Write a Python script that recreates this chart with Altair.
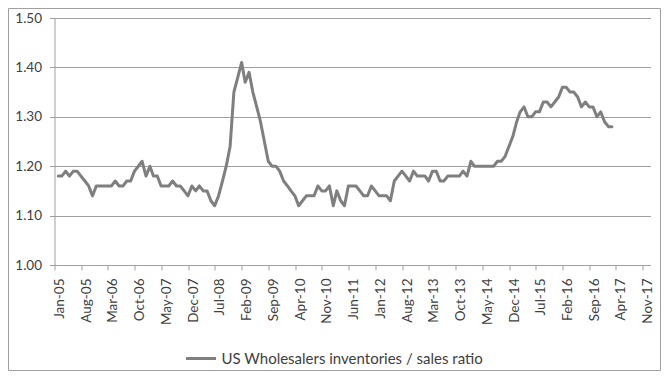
import altair as alt
import pandas as pd

series_name = "US Wholesalers inventories / sales ratio"

ratio = [
    1.18, 1.18, 1.19, 1.18, 1.19, 1.19, 1.18, 1.17, 1.16, 1.14, 1.16, 1.16,   # 2005
    1.16, 1.16, 1.16, 1.17, 1.16, 1.16, 1.17, 1.17, 1.19, 1.20, 1.21, 1.18,   # 2006
    1.20, 1.18, 1.18, 1.16, 1.16, 1.16, 1.17, 1.16, 1.16, 1.15, 1.14, 1.16,   # 2007
    1.15, 1.16, 1.15, 1.15, 1.13, 1.12, 1.14, 1.17, 1.20, 1.24, 1.35, 1.38,   # 2008
    1.41, 1.37, 1.39, 1.35, 1.32, 1.29, 1.25, 1.21, 1.20, 1.20, 1.19, 1.17,   # 2009
    1.16, 1.15, 1.14, 1.12, 1.13, 1.14, 1.14, 1.14, 1.16, 1.15, 1.15, 1.16,   # 2010
    1.12, 1.15, 1.13, 1.12, 1.16, 1.16, 1.16, 1.15, 1.14, 1.14, 1.16, 1.15,   # 2011
    1.14, 1.14, 1.14, 1.13, 1.17, 1.18, 1.19, 1.18, 1.17, 1.19, 1.18, 1.18,   # 2012
    1.18, 1.17, 1.19, 1.19, 1.17, 1.17, 1.18, 1.18, 1.18, 1.18, 1.19, 1.18,   # 2013
    1.21, 1.20, 1.20, 1.20, 1.20, 1.20, 1.20, 1.21, 1.21, 1.22, 1.24, 1.26,   # 2014
    1.29, 1.31, 1.32, 1.30, 1.30, 1.31, 1.31, 1.33, 1.33, 1.32, 1.33, 1.34,   # 2015
    1.36, 1.36, 1.35, 1.35, 1.34, 1.32, 1.33, 1.32, 1.32, 1.30, 1.31, 1.29,   # 2016
    1.28, 1.28,                                                               # 2017
]

months = pd.date_range("2005-01-31", periods=len(ratio), freq="ME")
df = pd.DataFrame({"month": months, "ratio": ratio, "series": series_name})

tick_dates = pd.date_range("2005-01-01", "2017-11-01", freq="7MS")
x_ticks = [alt.DateTime(year=int(d.year), month=int(d.month), date=1) for d in tick_dates]
y_ticks = [1.00, 1.10, 1.20, 1.30, 1.40, 1.50]

grey = "#a0a0a0"
text_col = "#404040"
font = "Lato"

line = alt.Chart(df).mark_line(strokeWidth=3, strokeCap="round", strokeJoin="round").encode(
    x=alt.X(
        "month:T",
        scale=alt.Scale(domain=[alt.DateTime(year=2005, month=1, date=1),
                                alt.DateTime(year=2018, month=1, date=1)]),
        axis=alt.Axis(values=x_ticks, format="%b-%y", labelAngle=-90, title=None,
                      grid=False, tickSize=5, labelPadding=8, labelOffset=5,
                      domainColor=grey, tickColor=grey, labelColor=text_col,
                      labelFontSize=13.5, labelFont=font, labelOverlap=False),
    ),
    y=alt.Y(
        "ratio:Q",
        scale=alt.Scale(domain=[1.0, 1.5], nice=False, zero=False),
        axis=alt.Axis(values=y_ticks, format=".2f", title=None, grid=True,
                      gridColor=grey, tickSize=5, labelPadding=8,
                      domainColor=grey, tickColor=grey, labelColor=text_col,
                      labelFontSize=13.5, labelFont=font),
    ),
    color=alt.Color(
        "series:N",
        scale=alt.Scale(domain=[series_name], range=["#7f7f7f"]),
        legend=alt.Legend(title=None, orient="none", legendX=130, legendY=324,
                          symbolType="stroke", symbolStrokeWidth=3, symbolSize=900,
                          labelFontSize=15, labelFont=font, labelColor=text_col,
                          labelLimit=500, labelOffset=4),
    ),
)

border = alt.Chart(pd.DataFrame({"b": [0]})).mark_rect(
    fillOpacity=0, stroke=grey, strokeWidth=1
).encode(
    x=alt.value(-46), x2=alt.value(606), y=alt.value(-9.5), y2=alt.value(352.5)
)

chart = alt.layer(border, line).properties(
    width=596,
    height=247,
    padding={"left": 46.5, "top": 10, "right": 10.5, "bottom": 106},
    autosize=alt.AutoSizeParams(type="none"),
    background="white",
).configure_view(strokeWidth=0)

chart.save("out.html", embed_options={"renderer": "svg", "actions": False})
